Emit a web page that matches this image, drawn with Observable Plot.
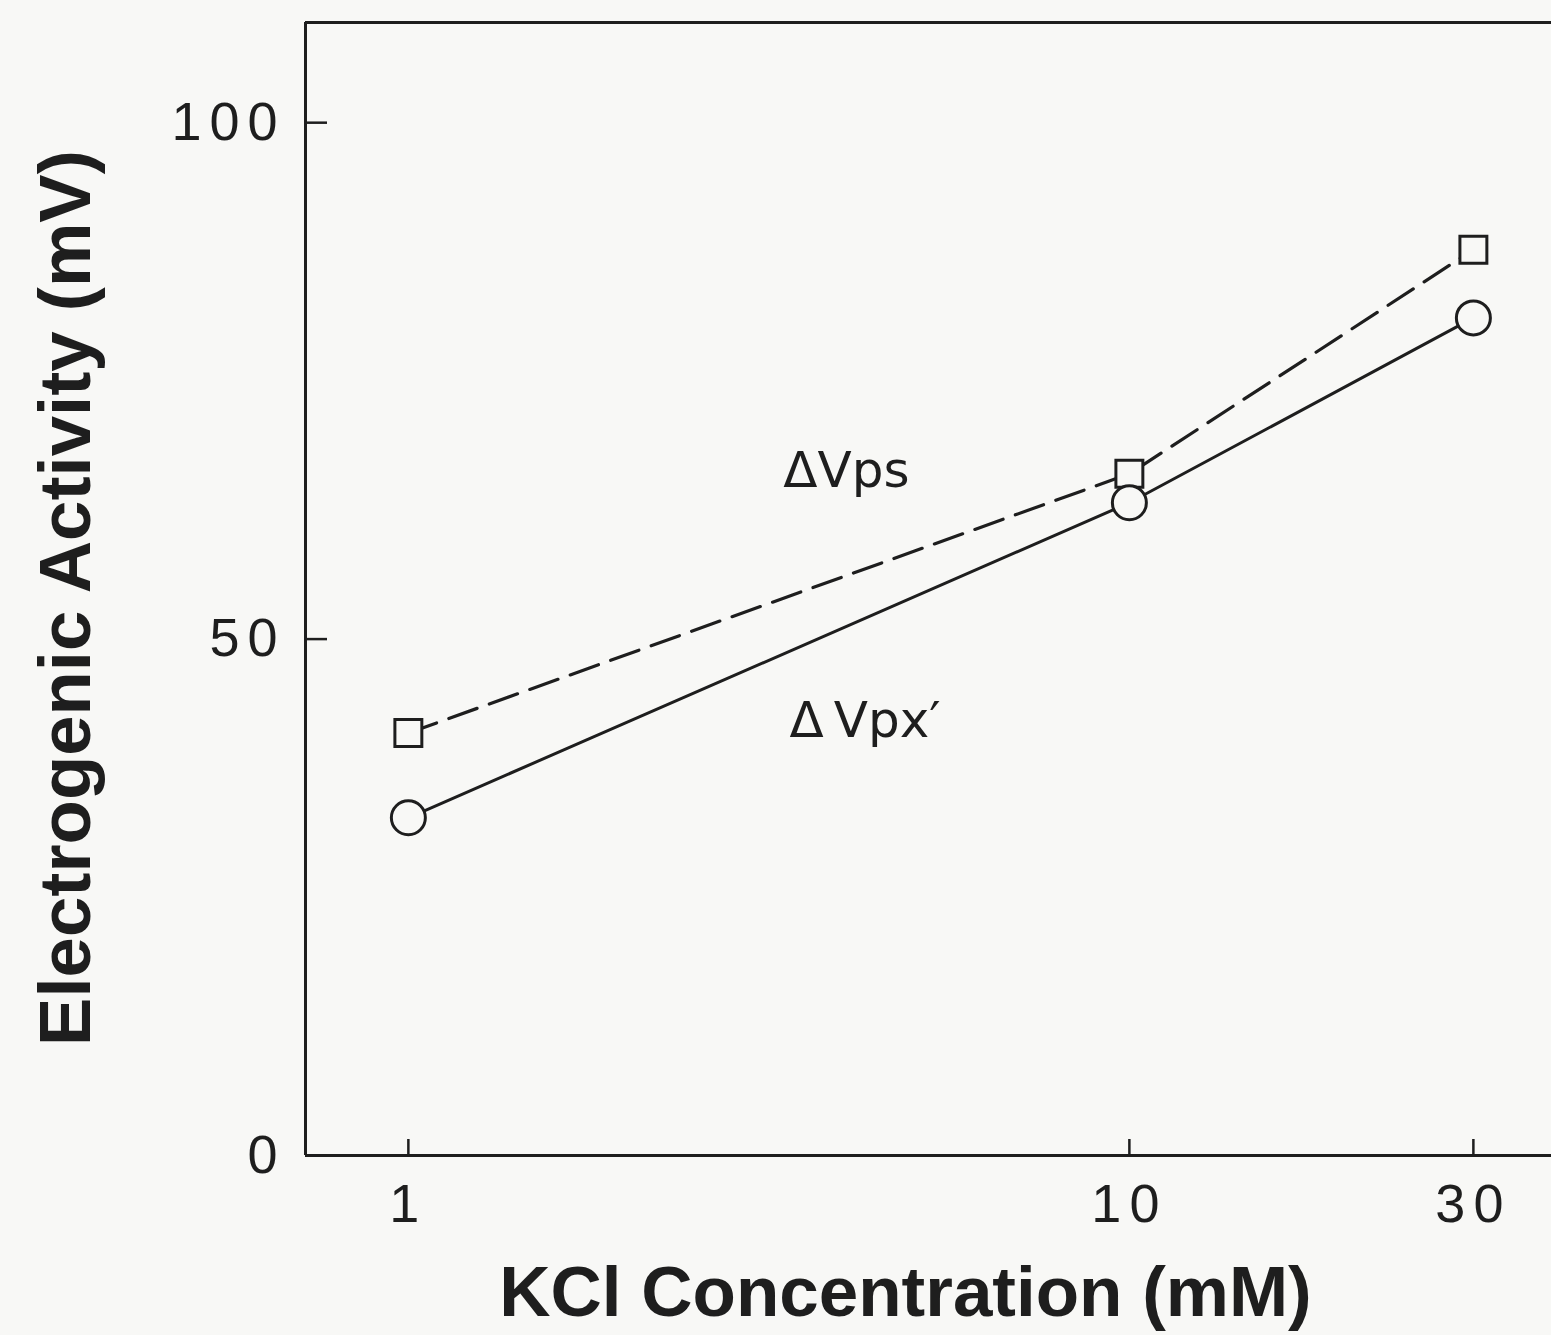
<!DOCTYPE html>
<html>
<head>
<meta charset="utf-8">
<script src="https://cdn.jsdelivr.net/npm/d3@7"></script>
<script src="https://cdn.jsdelivr.net/npm/@observablehq/plot@0.6"></script>
<style>
  html, body { margin: 0; padding: 0; background: #f8f8f6; }
  #chart svg { display: block; }
</style>
</head>
<body>
<div id="chart"></div>
<script>
// Data
const concentration = [1, 10, 30];          // KCl concentration (mM)
const deltaVps = [40.9, 66.0, 87.7];         // ΔVps (squares, dashed)
const deltaVpx = [32.7, 63.2, 81.1];         // ΔVpx' (circles, solid)
const xTicks = [1, 10, 30];
const yTicks = [0, 50, 100];
const xDomain = [0.72, 38.5];
const yDomain = [0, 109.7];
const seriesLabels = [
  {text: "ΔVps", x: 4.05, y: 66.3},
  {text: "Δ\u2009Vpx\u2032", x: 4.3, y: 42.1}
];

const ps = concentration.map((c, i) => ({x: c, y: deltaVps[i]}));
const px = concentration.map((c, i) => ({x: c, y: deltaVpx[i]}));

const font = "'Liberation Sans', Arial, sans-serif";
const ink = "#1e1e1e";
const bg = "#f8f8f6";

const chart = Plot.plot({
  width: 1551,
  height: 1335,
  marginLeft: 305,
  marginTop: 22,
  marginRight: 0,
  marginBottom: 180,
  style: {background: bg, fontFamily: font, color: ink},
  x: {type: "log", domain: xDomain},
  y: {domain: yDomain},
  marks: [
    Plot.ruleX([xDomain[0]], {stroke: ink, strokeWidth: 3}),
    Plot.ruleY([yDomain[0]], {stroke: ink, strokeWidth: 3}),
    Plot.ruleY([yDomain[1]], {stroke: ink, strokeWidth: 3}),
    Plot.axisY({
      ticks: yTicks, tickSize: -22, tickPadding: 42, strokeWidth: 2.5,
      fontSize: 54, fill: ink, tickFormat: d => String(d),
      label: "Electrogenic Activity (mV)", labelAnchor: "center", labelArrow: "none",
      labelOffset: 267
    }),
    Plot.axisX({
      ticks: xTicks, tickSize: -16, tickPadding: 44, strokeWidth: 2.5,
      fontSize: 54, fill: ink, tickFormat: d => String(d),
      label: "KCl Concentration (mM)", labelAnchor: "center", labelArrow: "none",
      labelOffset: 160
    }),
    Plot.line(ps, {x: "x", y: "y", stroke: ink, strokeWidth: 3.2, strokeDasharray: "30,13"}),
    Plot.line(px, {x: "x", y: "y", stroke: ink, strokeWidth: 3}),
    Plot.dot(ps, {x: "x", y: "y", symbol: "square", r: 15.2, fill: bg, stroke: ink, strokeWidth: 3}),
    Plot.dot(px, {x: "x", y: "y", symbol: "circle", r: 17, fill: bg, stroke: ink, strokeWidth: 3}),
    Plot.text(seriesLabels, {x: "x", y: "y", text: "text", fontSize: 50, fill: ink, fontFamily: "'DejaVu Sans', sans-serif"})
  ]
});

// axis titles: bold, sized and nudged as in the original
chart.querySelectorAll("[aria-label='y-axis label'] text").forEach(t => {
  t.setAttribute("font-weight", "bold");
  t.setAttribute("font-size", "72.5");
  t.setAttribute("transform", "translate(0,9) " + (t.getAttribute("transform") || ""));
});
chart.querySelectorAll("[aria-label='x-axis label'] text").forEach(t => {
  t.setAttribute("font-weight", "bold");
  t.setAttribute("font-size", "71");
  t.setAttribute("transform", "translate(-23,0) " + (t.getAttribute("transform") || ""));
});
chart.querySelectorAll("[aria-label='y-axis tick label'] text, [aria-label='x-axis tick label'] text").forEach(t => {
  t.setAttribute("letter-spacing", "8");
});
document.getElementById("chart").appendChild(chart);
</script>
</body>
</html>
